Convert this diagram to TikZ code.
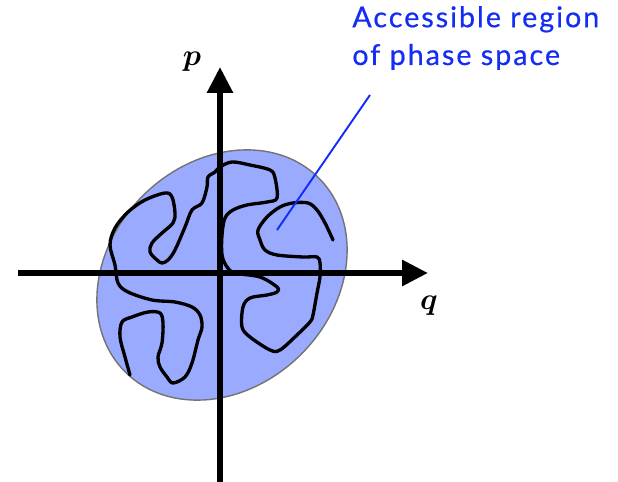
\documentclass[tikz,border=0pt]{standalone}
\usepackage{amsmath}
\usepackage{bm}
\usepackage{fontspec}
\newfontfamily\regionfont[LetterSpace=7,FakeBold=0.6]{Lato}
\usepackage{xcolor}
\definecolor{myblue}{RGB}{20,45,245}
\definecolor{myfill}{RGB}{154,170,255}
\colorlet{myedge}{black!55}
\usetikzlibrary{arrows.meta}
\begin{document}
\begin{tikzpicture}[x=0.02cm,y=-0.02cm]
      \useasboundingbox (0,0) rectangle (618,482);
      % accessible region
      \draw[myedge, line width=0.8pt, fill=myfill, rotate around={45:(222,275)}] (222,275) ellipse [x radius=137, y radius=112];
      % trajectory
      \draw[line width=1.9pt, line join=round, line cap=round] plot[smooth, tension=0.55] coordinates {
        (130,375) (125,357) (120,337) (122,322) (132,317) (148,312) (160,313) (163,323)
        (162,343) (158,357) (160,367) (167,377) (173,383) (185,377) (192,363) (198,340)
        (202,327) (200,315) (192,307) (175,302) (152,300) (128,292) (118,283) (115,265)
        (110,245) (115,228) (128,212) (145,200) (165,193) (172,197) (175,213) (173,223)
        (162,233) (152,243) (150,252) (157,260) (162,263) (168,260) (175,250) (185,227)
        (192,210) (202,203) (207,187) (208,177) (215,172) (220,167) (232,162) (250,165)
        (270,170) (275,178) (277,198) (267,202) (247,205) (233,210) (225,218) (222,235)
        (222,255) (227,267) (235,273) (260,277) (277,287) (277,292) (267,295) (250,298)
        (243,307) (242,327) (250,337) (270,350) (280,350) (297,335) (310,322) (313,315)
        (317,293) (320,277) (320,263) (317,257) (303,257) (277,255) (265,250) (260,240)
        (258,230) (267,217) (280,207) (293,203) (308,203) (317,210) (325,223) (333,240)};
      % axes
      \coordinate (qstart) at (18,273);
      \coordinate (qend) at (428,273);
      \coordinate (pstart) at (220,482);
      \coordinate (pend) at (220,67);
      \draw[line width=3.4pt, -{Triangle[length=0.52cm,width=0.5cm]}] (qstart) -- (qend);
      \draw[line width=3.4pt, -{Triangle[length=0.52cm,width=0.5cm]}] (pstart) -- (pend);
      \node (plabel) at (192,62) {\fontsize{17}{20}\selectfont$\bm{p}$};
      \node (qlabel) at (429,306) {\fontsize{17}{20}\selectfont$\bm{q}$};
      % annotation
      \node[anchor=base west, inner sep=0pt, text=myblue, align=left, font=\regionfont\fontsize{16.3}{21.5}\selectfont] (region) at (352,65) {Accessible region\\of phase space};
      \coordinate (tip) at (277,230);
      \draw[myblue, line width=1.1pt] (370,95) -- (tip);
    \end{tikzpicture}
\end{document}
